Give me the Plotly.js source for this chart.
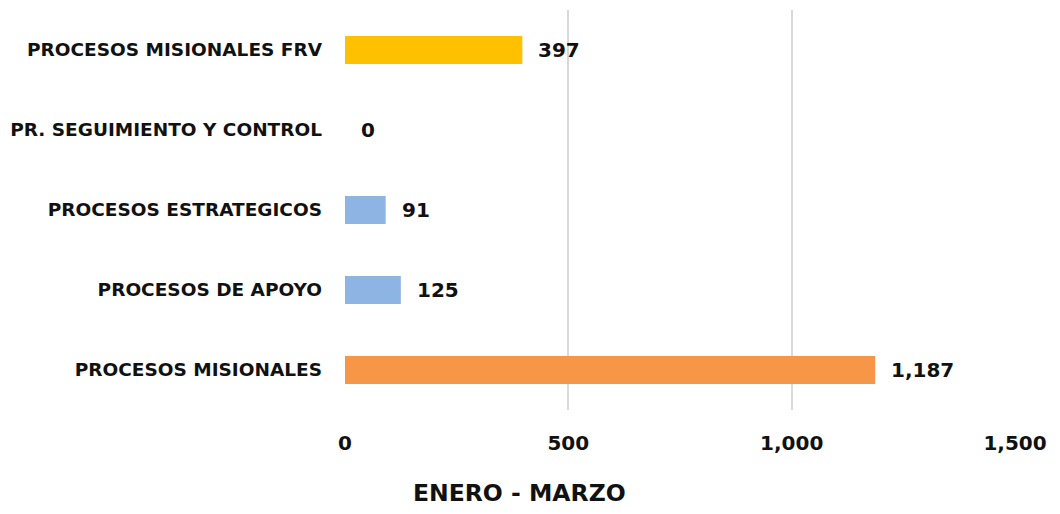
<!DOCTYPE html>
<html>
<head>
<meta charset="utf-8">
<script src="https://cdn.plot.ly/plotly-3.0.1.min.js"></script>
<style>html,body{margin:0;padding:0;background:#fff;}#chart{width:1060px;height:514px;}</style>
</head>
<body>
<div id="chart"></div>
<script>
var categories = ["PROCESOS MISIONALES", "PROCESOS DE APOYO", "PROCESOS ESTRATEGICOS", "PR. SEGUIMIENTO Y CONTROL", "PROCESOS MISIONALES FRV"];
var values = [1187, 125, 91, 0, 397];
var colors = ["#F79646", "#8EB4E3", "#8EB4E3", "#8EB4E3", "#FFC000"];
var xTicks = [0, 500, 1000, 1500];
var xTickLabels = ["0", "500", "1,000", "1,500"];
var xTitle = "ENERO - MARZO";

var font = "'DejaVu Sans', sans-serif";

var trace = {
  type: "bar",
  orientation: "h",
  x: values,
  y: categories,
  marker: {color: colors},
  width: 0.35,
  hoverinfo: "none"
};

var annotations = categories.map(function(c, i) {
  return {
    x: values[i], y: c, xref: "x", yref: "y",
    text: values[i].toLocaleString("en-US"),
    showarrow: false, xanchor: "left", yanchor: "middle",
    xshift: 14,
    font: {family: font, size: 20, color: "#111111", weight: 700}
  };
});
annotations.push({
  x: 0.261, y: 0, xref: "paper", yref: "paper", yshift: -83,
  xanchor: "center", yanchor: "middle", showarrow: false,
  text: xTitle,
  font: {family: font, size: 23.5, color: "#111111", weight: 700}
});

var layout = {
  width: 1060, height: 514,
  margin: {l: 345, r: 45, t: 10, b: 104},
  paper_bgcolor: "#fff", plot_bgcolor: "#fff",
  showlegend: false,
  font: {family: font, color: "#111111", weight: 700},
  xaxis: {
    range: [0, 1500],
    tickvals: xTicks, ticktext: xTickLabels,
    showgrid: true, gridcolor: "#d9d9d9", gridwidth: 2,
    zeroline: false, showline: false, ticks: "",
    ticklabelstandoff: 19,
    tickfont: {family: font, size: 20, color: "#111111", weight: 700},
    fixedrange: true
  },
  yaxis: {
    categoryorder: "array", categoryarray: categories,
    showgrid: false, zeroline: false, showline: false, ticks: "",
    ticklabelstandoff: 22,
    tickfont: {family: font, size: 18.5, color: "#111111", weight: 700},
    fixedrange: true
  },
  annotations: annotations
};

Plotly.newPlot("chart", [trace], layout, {displayModeBar: false, staticPlot: true});
</script>
</body>
</html>
